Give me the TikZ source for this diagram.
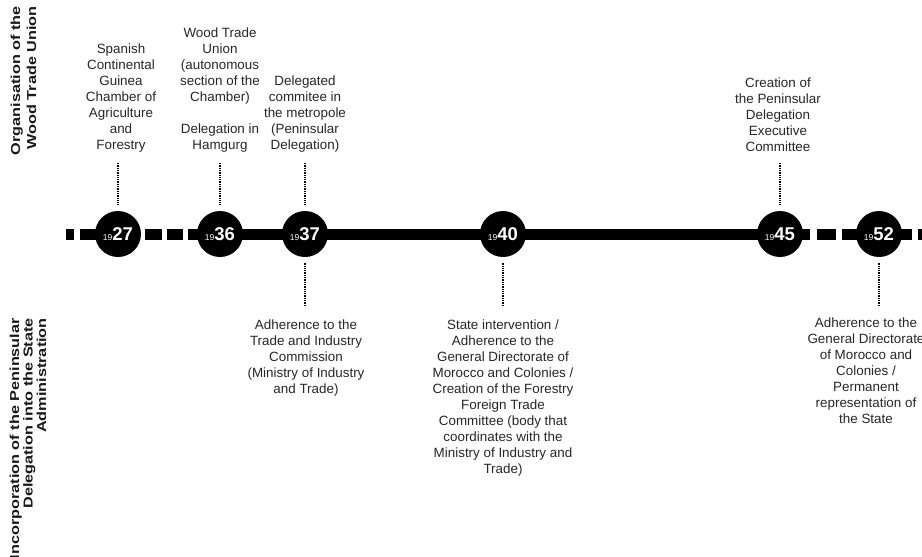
\documentclass[tikz,border=0pt]{standalone}
\usepackage{fontspec}
\setmainfont{Liberation Sans}
\newcommand\yearlabel[2]{{\fontsize{8.5}{9}\selectfont #1}{\fontsize{18.5}{18}\selectfont\bfseries #2}}
\newcommand\sidetext[2]{\scalebox{1.25}[1]{\fontsize{13}{#1}\selectfont\bfseries\begin{tabular}{@{}r@{}}#2\end{tabular}}}
\begin{document}
\begin{tikzpicture}[x=1pt,y=-1pt,
  lbl/.style={font=\fontsize{13.4}{16}\selectfont, align=center, inner sep=0pt, text=black!85},
  yr/.style={circle, fill=black, minimum size=46pt, inner sep=0pt, text=white},
  conn/.style={densely dotted, line width=1.3pt},
  side/.style={rotate=90, anchor=east, inner sep=0pt, text=black!90},
  bar/.style={fill=black}]
\useasboundingbox (0,0) rectangle (922,557);
% timeline bars
\fill[bar] (66,228.5) rectangle (74,239.5);
\fill[bar] (80,228.5) rectangle (110,239.5);
\fill[bar] (145,228.5) rectangle (162,239.5);
\fill[bar] (167,228.5) rectangle (183,239.5);
\fill[bar] (188,228.5) rectangle (810,239.5);
\fill[bar] (817,228.5) rectangle (836,239.5);
\fill[bar] (842,228.5) rectangle (890,239.5);
\fill[bar] (880,228.5) rectangle (912,239.5);
\fill[bar] (918,228.5) rectangle (930,239.5);
% year circles
\node[yr] (c27) at (118,234) {\yearlabel{19}{27}};
\node[yr] (c36) at (220,234) {\yearlabel{19}{36}};
\node[yr] (c37) at (305,234) {\yearlabel{19}{37}};
\node[yr] (c40) at (503,234) {\yearlabel{19}{40}};
\node[yr] (c45) at (780,234) {\yearlabel{19}{45}};
\node[yr] (c52) at (879,234) {\yearlabel{19}{52}};
% side labels
\node[side] (s1) at (25,6) {\sidetext{16}{Organisation of the\\Wood Trade Union}};
\node[side] (s2) at (30,318) {\sidetext{13.5}{Incorporation of the Peninsular\\Delegation into the State\\Administration}};
% top texts
\node[lbl, anchor=south] (t27) at (121,152) {Spanish\\Continental\\Guinea\\Chamber of\\Agriculture\\and\\Forestry};
\node[lbl, anchor=south] (t36) at (220,152) {Wood Trade\\Union\\(autonomous\\section of the\\Chamber)\\[16pt]Delegation in\\Hamgurg};
\node[lbl, anchor=south] (t37) at (305,152) {Delegated\\commitee in\\the metropole\\(Peninsular\\Delegation)};
\node[lbl, anchor=south] (t45) at (778,152) {Creation of\\the Peninsular\\Delegation\\Executive\\Committee};
% bottom texts
\node[lbl, anchor=north] (b37) at (306,320) {Adherence to the\\Trade and Industry\\Commission\\(Ministry of Industry\\and Trade)};
\node[lbl, anchor=north] (b40) at (503,320) {State intervention /\\Adherence to the\\General Directorate of\\Morocco and Colonies /\\Creation of the Forestry\\Foreign Trade\\Committee (body that\\coordinates with the\\Ministry of Industry and\\Trade)};
\node[lbl, anchor=north] (b52) at (866,318) {Adherence to the\\General Directorate\\of Morocco and\\Colonies /\\Permanent\\representation of\\the State};
% connectors
\draw[conn, shorten <=11pt, shorten >=6pt] (c27 |- t27.south) -- (c27.north);
\draw[conn, shorten <=11pt, shorten >=6pt] (c36 |- t36.south) -- (c36.north);
\draw[conn, shorten <=11pt, shorten >=6pt] (c37 |- t37.south) -- (c37.north);
\draw[conn, shorten <=11pt, shorten >=6pt] (c45 |- t45.south) -- (c45.north);
\draw[conn, shorten <=6pt, shorten >=15pt] (c37.south) -- (c37 |- b37.north);
\draw[conn, shorten <=6pt, shorten >=15pt] (c40.south) -- (c40 |- b40.north);
\draw[conn, shorten <=6pt, shorten >=13pt] (c52.south) -- (c52 |- b52.north);
\end{tikzpicture}
\end{document}
